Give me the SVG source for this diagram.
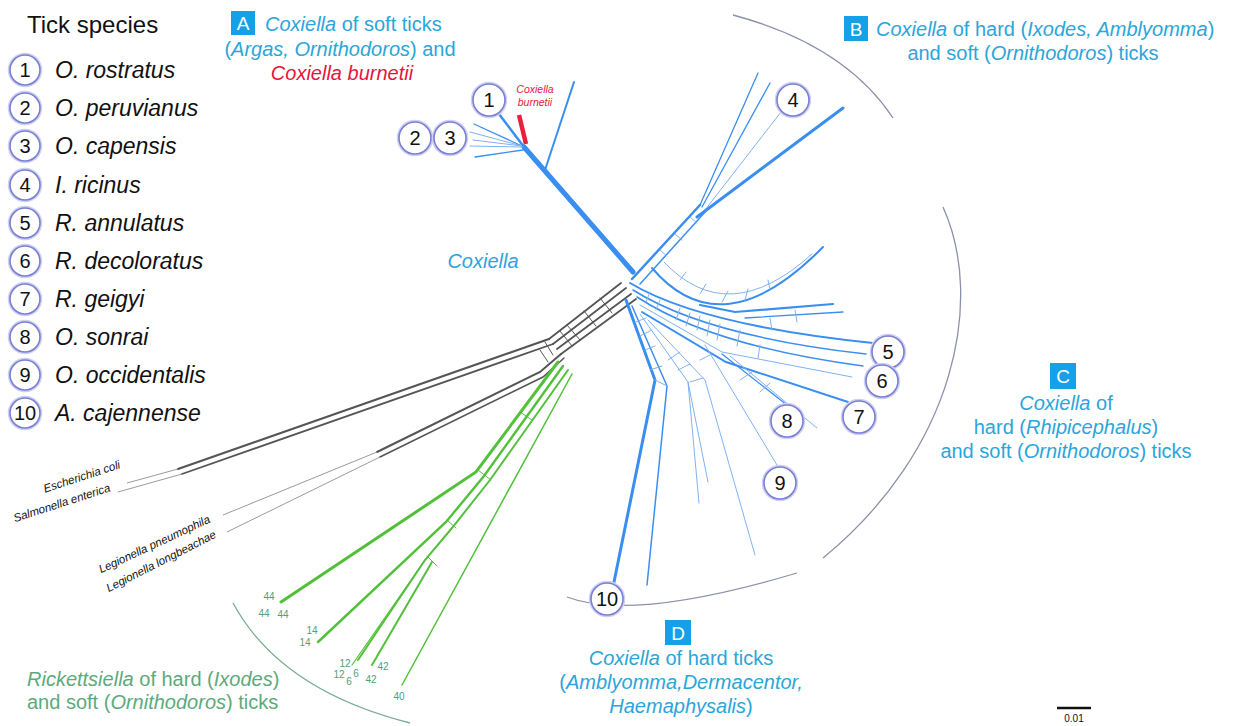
<svg xmlns="http://www.w3.org/2000/svg" width="1233" height="726" viewBox="0 0 1233 726">
<style>
text{font-family:"Liberation Sans",Arial,sans-serif}
.lg{font-size:23px;font-style:italic;fill:#111}
.num{font-size:20px;fill:#111;text-anchor:middle}
.nc{fill:#fff;stroke:#7a7fd2;stroke-width:1.6}
.ng{fill:none;stroke:#cfd1f4;stroke-width:4.5}
.lb{font-size:20px;fill:#2ba5da;text-anchor:middle}
.box{fill:#14a1e8}
.bl{font-size:19px;fill:#fff;text-anchor:middle}
.gr{font-size:20px;fill:#5caa7c}
.gn{font-size:10px;fill:#4fa07a;text-anchor:middle}
.bk{font-size:11.5px;font-style:italic;fill:#111}
.i{font-style:italic}
.b{fill:none;stroke:#3a8ef0;stroke-linecap:round}
.bt{fill:none;stroke:#7fb2f0;stroke-linecap:round;stroke-width:1}
.k{fill:none;stroke:#555;stroke-linecap:round}
.kt{fill:none;stroke:#9a9a9a;stroke-width:1}
.g{fill:none;stroke:#52c03a;stroke-linecap:round}
.arc{fill:none;stroke:#8c90aa;stroke-width:1.3}
</style>

<g id="legend">
<text x="27" y="33" style="font-size:24px;fill:#111">Tick species</text>
<g id="leg1"><circle class="ng" cx="25" cy="70" r="15"/><circle class="nc" cx="25" cy="70" r="15"/><text class="num" x="25" y="77">1</text><text class="lg" x="55" y="78">O. rostratus</text></g>
<g id="leg2"><circle class="ng" cx="25" cy="108" r="15"/><circle class="nc" cx="25" cy="108" r="15"/><text class="num" x="25" y="115">2</text><text class="lg" x="55" y="116">O. peruvianus</text></g>
<g id="leg3"><circle class="ng" cx="25" cy="146" r="15"/><circle class="nc" cx="25" cy="146" r="15"/><text class="num" x="25" y="153">3</text><text class="lg" x="55" y="154">O. capensis</text></g>
<g id="leg4"><circle class="ng" cx="25" cy="185" r="15"/><circle class="nc" cx="25" cy="185" r="15"/><text class="num" x="25" y="192">4</text><text class="lg" x="55" y="193">I. ricinus</text></g>
<g id="leg5"><circle class="ng" cx="25" cy="223" r="15"/><circle class="nc" cx="25" cy="223" r="15"/><text class="num" x="25" y="230">5</text><text class="lg" x="55" y="231">R. annulatus</text></g>
<g id="leg6"><circle class="ng" cx="25" cy="261" r="15"/><circle class="nc" cx="25" cy="261" r="15"/><text class="num" x="25" y="268">6</text><text class="lg" x="55" y="269">R. decoloratus</text></g>
<g id="leg7"><circle class="ng" cx="25" cy="299" r="15"/><circle class="nc" cx="25" cy="299" r="15"/><text class="num" x="25" y="306">7</text><text class="lg" x="55" y="307">R. geigyi</text></g>
<g id="leg8"><circle class="ng" cx="25" cy="337" r="15"/><circle class="nc" cx="25" cy="337" r="15"/><text class="num" x="25" y="344">8</text><text class="lg" x="55" y="345">O. sonrai</text></g>
<g id="leg9"><circle class="ng" cx="25" cy="375" r="15"/><circle class="nc" cx="25" cy="375" r="15"/><text class="num" x="25" y="382">9</text><text class="lg" x="55" y="383">O. occidentalis</text></g>
<g id="leg10"><circle class="ng" cx="25" cy="413" r="15"/><circle class="nc" cx="25" cy="413" r="15"/><text class="num" x="25" y="420">10</text><text class="lg" x="55" y="421">A. cajennense</text></g>
</g>

<g id="arcs">
<path class="arc" d="M733,15 Q845,45 893,118"/>
<path class="arc" d="M943,207 C985,300 955,450 823,558"/>
<path class="arc" d="M567,597 Q632,622 797,573"/>
<path class="arc" style="stroke:#7aae90" d="M233,603 Q280,690 410,723"/>
</g>

<g id="connectors">
<!-- black outgroups -->
<path class="k" stroke-width="1.8" d="M621,283 L549,339 M626,288 L553,344 M631,294 L557,349 M636,299 L561,354"/>
<path class="k" stroke-width="1" d="M560,331 L572,346 M567,325 L580,340 M584,311 L596,326 M600,298 L612,313 M545,342 L553,355 M540,350 L548,362"/>
<path class="k" stroke-width="2.2" d="M549,339 L178,469"/>
<path class="k" stroke-width="1.8" stroke="#666" d="M553,344 L182,474"/>
<path class="kt" d="M178,469 L127,483 M182,474 L118,492"/>
<path class="k" stroke-width="2" d="M561,354 L540,372 L377,452"/>
<path class="k" stroke-width="1.5" stroke="#666" d="M564,358 L543,377 L380,457"/>
<path class="kt" d="M377,452 L223,515 M380,457 L227,532"/>
<!-- green Rickettsiella -->
<path class="g" stroke-width="3" d="M558,362 L476,472 L281,602"/>
<path class="g" stroke-width="2.4" stroke="#5cc843" d="M563,366 L484,476 L446,522 L318,642"/>
<path class="g" stroke-width="2" stroke="#6acb55" d="M568,370 L490,480 L452,528 L425,560 L358,660"/>
<path class="g" stroke-width="1.2" stroke="#9ad88a" d="M425,560 L352,665"/>
<path class="g" stroke-width="2" d="M432,562 L372,665"/>
<path class="g" stroke-width="1.5" stroke="#b5dbb0" d="M572,374 L402,685"/>
<path class="g" stroke-width="1" stroke="#8fd47e" d="M478,470 L491,480 M447,520 L456,528 M427,556 L437,566 M520,412 L532,420"/>
<!-- blue A -->
<path class="b" stroke-width="5" d="M633,272 L524,147"/>
<path class="b" stroke-width="2" d="M545,170 L574,82"/>
<path class="b" stroke-width="2.5" d="M524,147 L499,114"/>
<path class="b" stroke-width="1.3" d="M524,147 L474,124 M523,150 L475,157"/>
<path class="bt" d="M522,146 L470,132 M522,146 L473,140 M521,147 L470,146"/>
<path fill="none" stroke="#e8203c" stroke-width="4.5" d="M519,115 L526,144"/>
<!-- blue B -->
<path class="b" stroke-width="2.5" d="M632,279 L700,205"/>
<path class="b" stroke-width="1.5" d="M640,284 L706,211"/>
<path class="b" stroke-width="1.3" d="M700,205 L758,73 M702,207 L770,83"/>
<path class="bt" stroke-width="1.3" d="M705,210 L781,112"/>
<path class="b" stroke-width="3" d="M697,217 L843,108"/>
<path class="bt" d="M660,250 L667,256 M675,234 L682,240 M690,217 L697,223"/>
<!-- curved branch -->
<path class="b" stroke-width="2" d="M652,268 Q722,350 823,247"/>
<path class="bt" d="M664,262 Q728,330 812,254"/>
<path class="bt" d="M680,280 L686,272 M700,294 L706,284 M722,302 L728,291 M745,300 L748,289 M770,290 L768,280"/>
<!-- blue C -->
<path class="b" stroke-width="2" d="M630,283 Q700,325 873,343"/>
<path class="b" stroke-width="1.5" d="M633,290 Q706,336 866,354"/>
<path class="b" stroke-width="1.5" d="M637,297 Q712,346 863,366"/>
<path class="bt" d="M640,305 L722,352 L852,377"/>
<path class="b" stroke-width="2" d="M642,312 L726,362 L848,402"/>
<path class="b" stroke-width="2.2" d="M700,305 L735,312 L833,304"/>
<path class="b" stroke-width="1.3" d="M745,318 L843,312"/>
<path class="bt" d="M660,300 L656,310 M680,308 L676,320 M700,316 L697,330 M720,324 L717,340 M740,330 L737,346 M770,318 L772,330 M795,310 L797,322 M760,345 L758,358 M650,292 L646,302 M690,313 L686,326 M710,320 L707,336"/>
<!-- blue D -->
<path class="b" stroke-width="3" d="M626,300 L655,380 L613,587"/>
<path class="b" stroke-width="1.5" d="M632,306 L667,386 L647,585"/>
<path class="bt" stroke-width="1.2" d="M640,314 L688,382 L708,482 M688,382 L699,503"/>
<path class="bt" d="M648,320 L705,380 L755,555"/>
<path class="bt" d="M705,345 L777,465"/>
<path class="b" stroke-width="1.3" d="M722,354 L787,405"/>
<path class="bt" d="M730,356 L817,428"/>
<path class="bt" d="M645,350 L655,346 M650,370 L662,366 M655,380 L667,386 M668,360 L680,352 M678,370 L690,364 M690,382 L703,378 M700,360 L712,354 M740,380 L752,372 M760,392 L770,383 M636,322 L646,318 M640,336 L652,330"/>
</g>

<g id="n1"><circle class="ng" cx="489" cy="100" r="16"/><circle class="nc" cx="489" cy="100" r="16"/><text class="num" x="489" y="107">1</text></g>
<g id="n2"><circle class="ng" cx="415" cy="138" r="16"/><circle class="nc" cx="415" cy="138" r="16"/><text class="num" x="415" y="145">2</text></g>
<g id="n3"><circle class="ng" cx="450" cy="138" r="16"/><circle class="nc" cx="450" cy="138" r="16"/><text class="num" x="450" y="145">3</text></g>
<g id="n4"><circle class="ng" cx="793" cy="100" r="16"/><circle class="nc" cx="793" cy="100" r="16"/><text class="num" x="793" y="107">4</text></g>
<g id="n5"><circle class="ng" cx="888" cy="352" r="16"/><circle class="nc" cx="888" cy="352" r="16"/><text class="num" x="888" y="359">5</text></g>
<g id="n6"><circle class="ng" cx="882" cy="381" r="16"/><circle class="nc" cx="882" cy="381" r="16"/><text class="num" x="882" y="388">6</text></g>
<g id="n7"><circle class="ng" cx="859" cy="417" r="16"/><circle class="nc" cx="859" cy="417" r="16"/><text class="num" x="859" y="424">7</text></g>
<g id="n8"><circle class="ng" cx="787" cy="421" r="16"/><circle class="nc" cx="787" cy="421" r="16"/><text class="num" x="787" y="428">8</text></g>
<g id="n9"><circle class="ng" cx="780" cy="483" r="16"/><circle class="nc" cx="780" cy="483" r="16"/><text class="num" x="780" y="490">9</text></g>
<g id="n10"><circle class="ng" cx="607" cy="599" r="16"/><circle class="nc" cx="607" cy="599" r="16"/><text class="num" x="607" y="606">10</text></g>

<g id="labelA">
<rect class="box" x="231" y="11" width="24" height="24"/><text class="bl" x="243" y="30">A</text>
<text x="265" y="31" style="font-size:20px;fill:#2ba5da"><tspan class="i">Coxiella</tspan> of soft ticks</text>
<text class="lb" x="340" y="56">(<tspan class="i">Argas, Ornithodoros</tspan>) and</text>
<text class="lb i" x="342" y="80" style="fill:#e4163a">Coxiella burnetii</text>
</g>
<g id="labelBurnetii">
<text x="535" y="93" style="font-size:10.5px;font-style:italic;fill:#e4163a;text-anchor:middle">Coxiella</text>
<text x="535" y="106" style="font-size:10.5px;font-style:italic;fill:#e4163a;text-anchor:middle">burnetii</text>
</g>
<g id="labelB">
<rect class="box" x="844" y="16" width="24" height="25"/><text class="bl" x="856" y="36">B</text>
<text x="876" y="36" style="font-size:20px;fill:#2ba5da"><tspan class="i">Coxiella</tspan> of hard (<tspan class="i">Ixodes, Amblyomma</tspan>)</text>
<text class="lb" x="1033" y="60">and soft (<tspan class="i">Ornithodoros</tspan>) ticks</text>
</g>
<g id="labelC">
<rect class="box" x="1050" y="363" width="26" height="26"/><text class="bl" x="1063" y="383">C</text>
<text class="lb" x="1066" y="410"><tspan class="i">Coxiella</tspan> of</text>
<text class="lb" x="1066" y="434">hard (<tspan class="i">Rhipicephalus</tspan>)</text>
<text class="lb" x="1066" y="458">and soft (<tspan class="i">Ornithodoros</tspan>) ticks</text>
</g>
<g id="labelD">
<rect class="box" x="665" y="620" width="26" height="25"/><text class="bl" x="678" y="640">D</text>
<text class="lb" x="681" y="665"><tspan class="i">Coxiella</tspan> of hard ticks</text>
<text class="lb" x="681" y="689">(<tspan class="i">Amblyomma,Dermacentor,</tspan></text>
<text class="lb" x="681" y="713"><tspan class="i">Haemaphysalis</tspan>)</text>
</g>
<g id="labelCoxiella">
<text class="lb i" x="483" y="268">Coxiella</text>
</g>
<g id="labelRick">
<text class="gr" x="27" y="686"><tspan class="i">Rickettsiella</tspan> of hard (<tspan class="i">Ixodes</tspan>)</text>
<text class="gr" x="27" y="709">and soft (<tspan class="i">Ornithodoros</tspan>) ticks</text>
</g>
<g id="outgroups">
<text class="bk" text-anchor="end" transform="translate(121,468) rotate(-18)">Escherichia coli</text>
<text class="bk" text-anchor="end" transform="translate(111,491) rotate(-18)">Salmonella enterica</text>
<text class="bk" text-anchor="end" transform="translate(211,522) rotate(-25)">Legionella pneumophila</text>
<text class="bk" text-anchor="end" transform="translate(217,537) rotate(-27)">Legionella longbeachae</text>
</g>
<g id="greenNums">
<text class="gn" x="269" y="600">44</text>
<text class="gn" x="264" y="617">44</text>
<text class="gn" x="283" y="618">44</text>
<text class="gn" x="312" y="634">14</text>
<text class="gn" x="305" y="646">14</text>
<text class="gn" x="345" y="667">12</text>
<text class="gn" x="339" y="678">12</text>
<text class="gn" x="349" y="685">6</text>
<text class="gn" x="356" y="677">6</text>
<text class="gn" x="383" y="670">42</text>
<text class="gn" x="371" y="683">42</text>
<text class="gn" x="399" y="700">40</text>
</g>
<g id="scale">
<line x1="1057" y1="708" x2="1091" y2="708" stroke="#111" stroke-width="2.5"/>
<text x="1074" y="722" style="font-size:10px;fill:#111;text-anchor:middle">0.01</text>
</g>
</svg>
